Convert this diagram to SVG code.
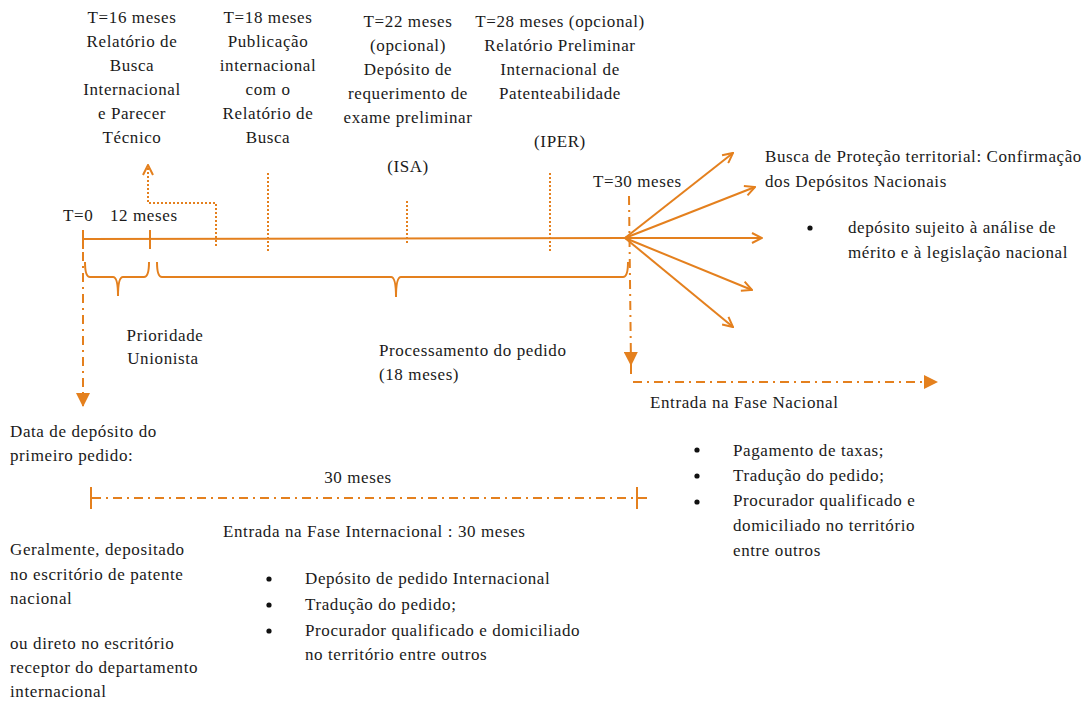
<svg xmlns="http://www.w3.org/2000/svg" width="1087" height="702" viewBox="0 0 1087 702" font-family="'Liberation Serif', serif" font-size="17">
<style>
text{font-family:'Liberation Serif',serif;font-size:17px;letter-spacing:0.6px;fill:#1a1a1a}
.c{text-anchor:middle}
.ln{stroke:#E4801E;stroke-width:2;fill:none}
.dot{stroke:#E4801E;stroke-width:2;fill:none;stroke-dasharray:2 2}
.dd{stroke:#E4801E;stroke-width:2;fill:none;stroke-dasharray:9 5 2 5}
</style>
<defs>
<marker id="open" viewBox="0 0 12 12" refX="11" refY="6" markerWidth="12" markerHeight="12" markerUnits="userSpaceOnUse" orient="auto">
<polyline points="1,1 11,6 1,11" fill="none" stroke="#E4801E" stroke-width="2"/>
</marker>
<marker id="fill" viewBox="0 0 14 14" refX="13" refY="7" markerWidth="14" markerHeight="14" markerUnits="userSpaceOnUse" orient="auto">
<polygon points="0,0 14,7 0,14" fill="#E4801E"/>
</marker>
</defs>

<g id="connectors">
<line class="ln" x1="83" y1="239" x2="625" y2="238"/>
<line class="ln" x1="83" y1="230" x2="83" y2="249"/>
<line class="ln" x1="150" y1="230" x2="150" y2="249"/>
<polyline class="dot" points="216,246 216,203 148,203 148,165" marker-end="url(#open)"/>
<line class="dot" x1="268" y1="173" x2="268" y2="253"/>
<line class="dot" x1="407" y1="201" x2="407" y2="245"/>
<line class="dot" x1="550" y1="173" x2="550" y2="253"/>
<line class="ln" x1="625" y1="238" x2="733" y2="153" marker-end="url(#open)"/>
<line class="ln" x1="625" y1="238" x2="755" y2="187" marker-end="url(#open)"/>
<line class="ln" x1="625" y1="238" x2="762" y2="238" marker-end="url(#open)"/>
<line class="ln" x1="625" y1="238" x2="752" y2="290" marker-end="url(#open)"/>
<line class="ln" x1="625" y1="238" x2="733" y2="327" marker-end="url(#open)"/>
<path class="ln" d="M85,262 Q85,277 90,277 L113,277 Q118,277 118,296 Q118,277 123,277 L144,277 Q149,277 149,262"/>
<path class="ln" d="M157,262 Q157,277 162,277 L391,277 Q396,277 396,297 Q396,277 401,277 L623,277 Q628,277 628,262"/>
<line class="dd" x1="83" y1="252" x2="83" y2="406" marker-end="url(#fill)"/>
<line class="dd" x1="629" y1="196" x2="631" y2="365" marker-end="url(#fill)"/>
<line class="dd" x1="631" y1="365" x2="631" y2="377"/>
<line class="dd" x1="633" y1="382" x2="937" y2="382" marker-end="url(#fill)"/>
<line class="dd" x1="92" y1="498" x2="652" y2="498"/>
<line class="ln" x1="91" y1="487" x2="91" y2="509"/>
<line class="ln" x1="637" y1="487" x2="637" y2="509"/>
</g>

<g id="n-t16">
<text class="c" x="132" y="23">T=16 meses</text>
<text class="c" x="132" y="47">Relatório de</text>
<text class="c" x="132" y="71">Busca</text>
<text class="c" x="132" y="95">Internacional</text>
<text class="c" x="132" y="119">e Parecer</text>
<text class="c" x="132" y="143">Técnico</text>
</g>
<g id="n-t18">
<text class="c" x="268" y="23">T=18 meses</text>
<text class="c" x="268" y="47">Publicação</text>
<text class="c" x="268" y="71">internacional</text>
<text class="c" x="268" y="95">com o</text>
<text class="c" x="268" y="119">Relatório de</text>
<text class="c" x="268" y="143">Busca</text>
</g>
<g id="n-t22">
<text class="c" x="408" y="27">T=22 meses</text>
<text class="c" x="408" y="51">(opcional)</text>
<text class="c" x="408" y="75">Depósito de</text>
<text class="c" x="408" y="99">requerimento de</text>
<text class="c" x="408" y="123">exame preliminar</text>
<text class="c" x="408" y="172">(ISA)</text>
</g>
<g id="n-t28">
<text class="c" x="560" y="27">T=28 meses (opcional)</text>
<text class="c" x="560" y="51">Relatório Preliminar</text>
<text class="c" x="560" y="75">Internacional de</text>
<text class="c" x="560" y="99">Patenteabilidade</text>
<text class="c" x="560" y="147">(IPER)</text>
</g>
<g id="n-t30">
<text x="593" y="187">T=30 meses</text>
</g>
<g id="n-t0">
<text x="63" y="221">T=0</text>
<text x="110" y="221">12 meses</text>
</g>
<g id="n-busca">
<text x="765" y="162">Busca de Proteção territorial: Confirmação</text>
<text x="765" y="187">dos Depósitos Nacionais</text>
<circle cx="810" cy="228" r="2.6" fill="#111"/>
<text x="848" y="233">depósito sujeito à análise de</text>
<text x="848" y="258">mérito e à legislação nacional</text>
</g>
<g id="n-prioridade">
<text class="c" x="165" y="341">Prioridade</text>
<text class="c" x="163" y="364">Unionista</text>
</g>
<g id="n-processamento">
<text x="379" y="356">Processamento do pedido</text>
<text x="379" y="380">(18 meses)</text>
</g>
<g id="n-nacional">
<text x="650" y="408">Entrada na Fase Nacional</text>
<circle cx="697" cy="450" r="2.6" fill="#111"/>
<text x="733" y="456">Pagamento de taxas;</text>
<circle cx="697" cy="476" r="2.6" fill="#111"/>
<text x="733" y="481">Tradução do pedido;</text>
<circle cx="697" cy="502" r="2.6" fill="#111"/>
<text x="733" y="506">Procurador qualificado e</text>
<text x="733" y="531">domiciliado no território</text>
<text x="733" y="556">entre outros</text>
</g>
<g id="n-data">
<text x="10" y="437">Data de depósito do</text>
<text x="10" y="461">primeiro pedido:</text>
</g>
<g id="n-30">
<text class="c" x="358" y="483">30 meses</text>
</g>
<g id="n-internacional">
<text x="223" y="537">Entrada na Fase Internacional : 30 meses</text>
<circle cx="269" cy="579" r="2.6" fill="#111"/>
<text x="305" y="584">Depósito de pedido Internacional</text>
<circle cx="269" cy="605" r="2.6" fill="#111"/>
<text x="305" y="610">Tradução do pedido;</text>
<circle cx="269" cy="631" r="2.6" fill="#111"/>
<text x="305" y="636">Procurador qualificado e domiciliado</text>
<text x="305" y="660">no território entre outros</text>
</g>
<g id="n-geral">
<text x="10" y="555">Geralmente, depositado</text>
<text x="10" y="580">no escritório de patente</text>
<text x="10" y="604">nacional</text>
<text x="10" y="649">ou  direto no escritório</text>
<text x="10" y="673">receptor do departamento</text>
<text x="10" y="697">internacional</text>
</g>
</svg>
